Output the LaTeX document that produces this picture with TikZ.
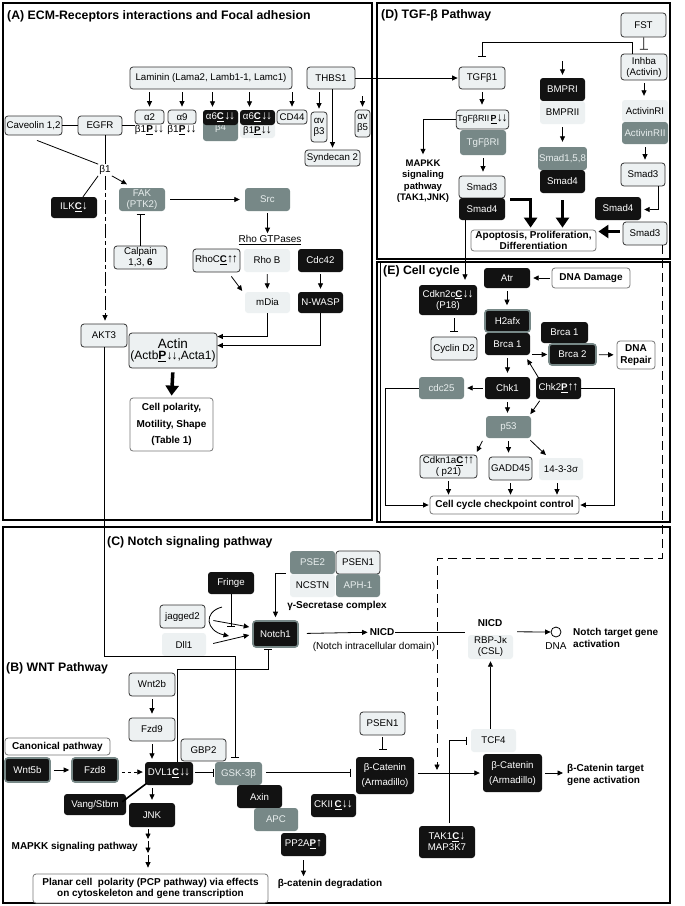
\documentclass[tikz,border=0pt]{standalone}
\usepackage{fontspec}
\setmainfont{Liberation Sans}
\usetikzlibrary{arrows.meta,calc}
\definecolor{lightc}{HTML}{EDF1F2}
\definecolor{grayc}{HTML}{778887}
\definecolor{grtext}{HTML}{E8EEEE}
\definecolor{blk}{HTML}{121212}
\definecolor{bord}{HTML}{333333}
\definecolor{wbord}{HTML}{777777}
\newcommand\xP{\textbf{\underline{P}}}
\newcommand\xC{\textbf{\underline{C}}}
\newcommand\xdn{{\fontsize{12}{10}\selectfont ↓}}
\newcommand\xup{{\fontsize{12}{10}\selectfont ↑}}
\newcommand\xdd{\kern0.3pt\xdn\kern-1.2pt\xdn}
\newcommand\xuu{\xup\kern-1.2pt\xup}
\newcommand\bx[7]{\node[#1, minimum width={(#5-#3)*1pt}, minimum height={(#6-#4)*1pt}] (#2) at ({(#3+#5)/2},{(#4+#6)/2}) {#7};}
\tikzset{
 base/.style={rounded corners=3pt, inner sep=1pt, align=center, font=\fontsize{9.7}{11}\selectfont},
 lb/.style={base, fill=lightc, draw=bord, line width=0.8pt},
 ln/.style={base, fill=lightc},
 gr/.style={base, fill=grayc, text=grtext},
 bk/.style={base, fill=blk, text=white},
 bkg/.style={base, fill=blk, text=white, draw=grayc, line width=1.6pt},
 wb/.style={base, fill=white, draw=wbord, line width=0.8pt, font=\fontsize{10}{11.5}\selectfont\bfseries},
 lbl/.style={inner sep=1pt, font=\fontsize{10}{11}\selectfont},
 blbl/.style={inner sep=1pt, font=\fontsize{10}{11.5}\selectfont\bfseries, align=center},
 ttl/.style={inner sep=0pt, anchor=west, font=\fontsize{12.3}{14}\selectfont\bfseries},
 conn/.style={line width=0.8pt, draw=black},
 arr/.style={conn, -{Triangle[length=5.5pt,width=5pt]}},
 inh/.style={conn, -{Bar[width=8pt, line width=0.8pt]}},
 thickarr/.style={line width=3.5pt, -{Triangle[length=10pt, width=13pt]}},
 frame/.style={line width=1.3pt},
 ldash/.style={dash pattern=on 9pt off 5pt},
 ddot/.style={dash pattern=on 14pt off 3pt on 4pt off 3pt},
}
\begin{document}
\begin{tikzpicture}[x=1pt,y=-1pt]
\fill[white] (0,0) rectangle (685,906);
\useasboundingbox (0,0) rectangle (685,906);
% frames
\draw[frame] (3,3) rectangle (372,520);
\draw[frame] (377,3) rectangle (670,259);
\draw[frame] (377,262) rectangle (670,522);
\draw[line width=0.8pt] (380,262) -- (380,522);
\draw[frame] (3,527) rectangle (670,903);

%% ---------------- Panel A
\node[ttl] (tA) at (7,16) {(A) ECM-Receptors interactions and Focal adhesion};
\bx{lb}{lam}{130}{67}{292}{89}{Laminin (Lama2, Lamb1-1, Lamc1)}
\bx{lb}{thbs}{307}{67}{355}{89}{THBS1}
\bx{lb}{a2}{135}{110}{164}{124}{α2}
\node[lbl] (a2b) at (149.5,130) {β1\xP\xdd};
\bx{lb}{a9}{168}{110}{196}{124}{α9}
\node[lbl] (a9b) at (182,130) {β1\xP\xdd};
\bx{gr}{b4}{203}{110}{238}{141}{\\[1pt]β4}
\bx{bk}{a6a}{203}{110}{238}{125}{α6\xC\xdd}
\bx{ln}{a6bb}{240}{123}{275}{138}{β1\xP\xdd}
\bx{bk}{a6b}{240}{110}{275}{125}{α6\xC\xdd}
\bx{lb}{cd44}{277}{110}{307}{124}{CD44}
\bx{lb}{avb3}{311}{112}{327}{142}{αv\\β3}
\bx{lb}{avb5}{355}{110}{370}{137}{αv\\β5}
\bx{lb}{synd}{305}{150}{360}{166}{Syndecan 2}
\foreach \n/\dx in {a2/0, a9/0, a6a/-8, a6b/-8, cd44/0}{
  \draw[arr, shorten <=3pt, shorten >=3pt] ([xshift=\dx pt]\n.north |- lam.south) -- ([xshift=\dx pt]\n.north);
}
\draw[arr, shorten <=3pt, shorten >=3pt] (avb3.north |- thbs.south) -- (avb3.north);
\draw[arr, shorten <=7pt, shorten >=3pt] (avb5.north |- thbs.south) -- (avb5.north);
\draw[arr, shorten >=2pt] (synd.north |- thbs.south) -- (synd.north);
\bx{lb}{cav}{5}{116}{62}{135}{Caveolin 1,2}
\bx{lb}{egfr}{78}{116}{122}{135}{EGFR}
\draw[conn] (cav) -- (egfr);
\draw[conn] (egfr.east) -- (egfr.east -| a2.west);
\node[lbl] (beta1) at (105,170) {β1};
\draw[conn] ([xshift=3.5pt,yshift=-5pt]cav.south) -- (beta1.north west);
\draw[conn] (beta1.north |- egfr.south) -- (beta1.north);
\bx{bk}{ilk}{51}{197}{97}{218}{ILK\xC\xdn}
\bx{gr}{fak}{119}{188}{165}{211}{FAK\\(PTK2)}
\bx{gr}{src}{245}{188}{290}{211}{Src}
\draw[arr, shorten >=1pt] (beta1.south east) -- ([xshift=9pt,yshift=3pt]fak.north west);
\draw[conn] (beta1.south west) -- ([xshift=9pt]ilk.north);
\bx{lb}{akt3}{81}{324}{127}{347}{AKT3}
\draw[arr, ddot, shorten >=3pt] (beta1.south) -- (beta1.south |- akt3.north);
\draw[arr, shorten <=5pt, shorten >=5pt] (fak) -- (src);
\bx{lb}{calp}{114}{246}{167}{269}{Calpain\\1,3, \textbf{6}}
\draw[inh, shorten >=3pt] (calp.north) -- (calp.north |- fak.south);
\node[lbl] (rhog) at (270,240) {\underline{Rho GTPases}};
\draw[arr, shorten <=2pt, shorten >=1pt] (src.south) -- (src.south |- rhog.north);
\bx{lb}{rhoc}{193}{249}{240}{272}{RhoC\xC\xuu}
\bx{ln}{rhob}{244}{249}{290}{272}{Rho B}
\bx{bk}{cdc42}{298}{249}{343}{272}{Cdc42}
\bx{ln}{mdia}{245}{292}{290}{313}{mDia}
\bx{bk}{nwasp}{298}{292}{343}{313}{N-WASP}
\draw[arr, shorten <=5pt, shorten >=1pt] ([xshift=-12pt]rhoc.south east) -- ([xshift=-2pt]mdia.north west);
\draw[arr, shorten <=2pt, shorten >=3pt] (rhob) -- (mdia);
\draw[arr, shorten <=2pt, shorten >=3pt] (cdc42) -- (nwasp);
\bx{lb}{actin}{129}{333}{217}{368}{{\fontsize{13.5}{14}\selectfont Actin}\\{\fontsize{12}{13}\selectfont (Actb\xP\xdd,Acta1)}}
\draw[arr] (mdia.south) |- ([yshift=14pt]actin.east);
\draw[arr] (nwasp.south) |- ([yshift=5pt]actin.east);
\bx{wb}{cellpol}{130}{398}{213}{451}{Cell polarity,\\[5pt]Motility, Shape\\[5pt](Table 1)}
\draw[thickarr, shorten <=4pt, shorten >=2pt] (actin.south) -- (cellpol.north);

%% ---------------- Panel D
\node[ttl] (tD) at (381,15) {(D) TGF-β Pathway};
\bx{lb}{fst}{621}{13}{666}{37}{FST}
\bx{lb}{inhba}{621}{54}{667}{80}{Inhba\\(Activin)}
\bx{lb}{tgfb1}{459}{67}{505}{89}{TGFβ1}
\draw[arr, shorten >=1pt] (thbs.east) -- (tgfb1.west);
\draw[inh, shorten >=4pt] (fst) -- (inhba);
\draw[inh, shorten >=10pt] ([xshift=-12pt]inhba.north) -- ++(0,-11) -| (tgfb1.north);
\bx{lb}{tgfbr2}{459}{110}{506}{129}{\fontsize{8.8}{10}\selectfont TgFβRII\,\xP\xdd}
\bx{gr}{tgfbr1}{460}{130}{506}{155}{TgFβRI}
\draw[arr, shorten <=3pt, shorten >=5pt] (tgfb1) -- (tgfb1 |- tgfbr2.north);
\node[blbl, font=\fontsize{9.5}{11.5}\selectfont\bfseries] (mapkkD) at (423,181) {MAPKK\\signaling\\pathway\\(TAK1,JNK)};
\draw[arr, shorten >=4pt] (tgfbr2.west) -| (mapkkD.north);
\bx{lb}{smad3a}{459}{176}{505}{198}{Smad3}
\bx{bk}{smad4a}{459}{198}{505}{220}{Smad4}
\draw[arr, shorten <=3pt, shorten >=4pt] (tgfbr1) -- (tgfbr1 |- smad3a.north);
\bx{bk}{bmpr1}{540}{78}{585}{101}{BMPRI}
\bx{ln}{bmpr2}{540}{101}{585}{124}{BMPRII}
\bx{gr}{smad158}{540}{147}{585}{170}{Smad1,5,8}
\bx{bk}{smad4b}{540}{170}{585}{193}{Smad4}
\coordinate (bmptop) at (562.5,61);
\draw[arr, shorten >=3pt] (bmptop) -- (bmpr1);
\draw[arr, shorten <=3pt, shorten >=5pt] (bmpr2) -- (smad158);
\bx{wb}{apop}{471}{230}{596}{251}{Apoptosis, Proliferation,\\Differentiation}
\draw[thickarr, shorten >=2pt] ($(smad3a.south east)+(5,1)$) -| ($(apop.north west)+(60,0)$);
\draw[thickarr, shorten <=7pt, shorten >=2pt] (smad4b.south) -- (smad4b.south |- apop.north);
\bx{ln}{actr1}{622}{100}{668}{122}{ActivinRI}
\bx{gr}{actr2}{622}{122}{668}{144}{ActivinRII}
\bx{lb}{smad3b}{621}{163}{665}{186}{Smad3}
\bx{bk}{smad4c}{595}{197}{641}{220}{Smad4}
\bx{lb}{smad3c}{623}{222}{667}{245}{Smad3}
\draw[arr, shorten <=3pt, shorten >=4pt] (inhba) -- (inhba |- actr1.north);
\draw[arr, shorten <=3pt, shorten >=3pt] (actr2) -- (actr2 |- smad3b.north);
\draw[arr, shorten >=3pt] ([xshift=15pt]smad3b.south) |- ([yshift=-1pt]smad4c.east);
\draw[thickarr, shorten <=3pt, shorten >=2pt] ([yshift=2pt]smad3c.west) -- ([yshift=2pt]smad3c.west -| apop.east);

%% ---------------- Panel E
\node[ttl] (tE) at (383,271) {(E) Cell cycle};
\bx{bk}{atr}{484}{268}{530}{288}{Atr}
\bx{wb}{dnad}{552}{268}{630}{288}{DNA Damage}
\draw[arr, shorten <=2pt, shorten >=3pt] (dnad) -- (atr);
\bx{bkg}{h2afx}{485}{310}{530}{332}{H2afx}
\bx{bk}{brca1}{485}{333}{530}{355}{Brca 1}
\draw[arr, shorten <=3pt, shorten >=4pt] (atr) -- (atr |- h2afx.north);
\bx{bk}{cdkn2c}{419}{285}{477}{315}{Cdkn2c\xC\xdd\\(P18)\hspace{18pt}}
\draw[arr, shorten >=5pt] ([xshift=-17pt]smad4a.south) -- ([xshift=17pt]cdkn2c.north);
\bx{lb}{cycd2}{431}{337}{477}{360}{Cyclin D2}
\draw[inh, shorten <=3pt, shorten >=5pt] (cycd2.north |- cdkn2c.south) -- (cycd2.north);
\bx{bk}{brca1b}{541}{322}{588}{343}{Brca 1}
\bx{bkg}{brca2}{549}{344}{596}{365}{Brca 2}
\draw[arr, shorten <=2pt, shorten >=1pt] (brca2.west -| brca1.east) -- (brca2.west);
\bx{wb}{dnar}{617}{341}{655}{369}{DNA\\Repair}
\draw[arr, shorten <=2pt, shorten >=3pt] (brca2) -- (dnar);
\bx{bk}{chk1}{485}{377}{530}{399}{Chk1}
\bx{bk}{chk2}{536}{377}{581}{399}{Chk2\xP\xuu}
\bx{gr}{cdc25}{419}{377}{464}{399}{cdc25}
\draw[arr, shorten <=3pt, shorten >=4pt] (brca1) -- (brca1 |- chk1.north);
\draw[arr, shorten <=2pt] ([xshift=4pt,yshift=-3pt]chk2.north west) -- ([xshift=-3pt,yshift=-4pt]brca1.south east);
\draw[arr, shorten <=2pt, shorten >=3pt] (chk1) -- (cdc25);
\bx{wb}{cccc}{430}{496}{579}{514}{Cell cycle checkpoint control}
\draw[arr, shorten >=1pt] (cdc25.west) -- ++(-33,0) |- (cccc.west);
\draw[arr, shorten >=1pt] (chk2.east) -- ++(33,0) |- (cccc.east);
\bx{gr}{p53}{486}{416}{531}{438}{p53}
\draw[arr, shorten <=3pt, shorten >=3pt] (chk1.south) -- (chk1.south |- p53.north);
\draw[arr, shorten <=2pt, shorten >=2pt] ([xshift=5pt]chk2.south west) -- ([xshift=-2pt]p53.north east);
\bx{lb}{cdkn1a}{420}{455}{477}{478}{Cdkn1a\xC\xuu\\( p21)\hspace{22pt}}
\bx{lb}{gadd}{489}{457}{532}{480}{GADD45}
\bx{ln}{s1433}{539}{458}{583}{480}{14-3-3σ}
\draw[arr, shorten <=3pt, shorten >=3pt] ([xshift=-2pt]p53.south west) -- ([xshift=-2pt]cdkn1a.north east);
\draw[arr, shorten <=3pt, shorten >=4pt] (p53.south) -- (p53.south |- gadd.north);
\draw[arr, shorten <=3pt, shorten >=4pt] ([xshift=-3pt]p53.south east) -- ([xshift=10pt]s1433.north west);
\draw[arr, shorten <=3pt, shorten >=1pt] (cdkn1a) -- (cdkn1a |- cccc.north);
\draw[arr, shorten <=3pt, shorten >=1pt] (gadd) -- (gadd |- cccc.north);
\draw[arr, shorten <=3pt, shorten >=1pt] ([xshift=-4pt]s1433.south) -- ([xshift=-4pt]s1433.south |- cccc.north);

%% ---------------- Panel C
\node[ttl] (tC) at (107,542) {(C) Notch signaling pathway};
\bx{gr}{pse2}{290}{551}{335}{574}{PSE2}
\bx{lb}{psen1a}{336}{551}{380}{574}{PSEN1}
\bx{ln}{ncstn}{290}{574}{335}{597}{NCSTN}
\bx{gr}{aph1}{336}{574}{380}{597}{APH-1}
\node[blbl] (gsec) at (337,606) {γ-Secretase complex};
\bx{bk}{fringe}{208}{572}{254}{594}{Fringe}
\bx{lb}{jag2}{160}{605}{205}{628}{jagged2}
\bx{ln}{dll1}{162}{633}{206}{656}{Dll1}
\bx{bkg}{notch1}{253}{621}{298}{647}{Notch1}
\draw[arr, shorten <=4pt, shorten >=3pt] (ncstn.north west) -- (notch1.north |- ncstn.north west) -- (notch1.north);
\coordinate (frT) at (231,627);
\draw[inh] (fringe.south) -- (frT);
\coordinate (cvs) at (222,607);
\coordinate (cve) at (229,636);
\draw[arr] (cvs) .. controls (203,612) and (206,631) .. (cve);
\draw[arr] ($(jag2.east)+(8,4)$) -- ($(notch1.west)+(-3,-7)$);
\draw[arr] ($(dll1.east)+(7,-1)$) -- ($(notch1.west)+(-3,1)$);
\node[blbl] (nicd1) at (382,632) {NICD};
\node[lbl] (nicdlbl) at (374,647) {(Notch intracellular domain)};
\draw[arr, shorten <=8pt, shorten >=1pt] (notch1) -- (nicd1);
\node[blbl] (nicd2) at (490,623) {NICD};
\bx{ln}{rbp}{468}{635}{513}{659}{RBP-Jκ\\(CSL)}
\draw[conn] (nicd1.east) -- ($(rbp.west |- nicd1.east)+(-3,0)$);
\node[circle, draw, line width=0.8pt, minimum size=10pt, inner sep=0pt] (dnac) at (556,632) {};
\node[lbl] (dnalbl) at (556,646) {DNA};
\draw[arr] ($(rbp.north east)+(4,-3)$) -- (dnac.west);
\node[blbl, align=left, anchor=west] (ntga) at (572,638) {Notch target gene\\activation};

%% ---------------- Panel B
\node[ttl] (tB) at (6,668) {(B) WNT Pathway};
\bx{lb}{wnt2b}{129}{673}{175}{696}{Wnt2b}
\bx{lb}{fzd9}{129}{718}{175}{741}{Fzd9}
\bx{bk}{dvl1}{145}{762}{193}{785}{DVL1\xC\xdd}
\draw[arr, shorten <=3pt, shorten >=4pt] (wnt2b) -- (fzd9);
\draw[arr, shorten <=3pt, shorten >=3pt] (fzd9.south) -- (fzd9.south |- dvl1.north);
\bx{wb}{canon}{5}{738}{110}{755}{Canonical pathway}
\bx{bkg}{wnt5b}{5}{758}{50}{782}{Wnt5b}
\bx{bkg}{fzd8}{72}{758}{118}{782}{Fzd8}
\draw[arr, shorten <=3pt, shorten >=2pt] (wnt5b) -- (fzd8);
\draw[arr, dashed, shorten <=3pt, shorten >=2pt] ([yshift=-2pt]fzd8.east) -- ([yshift=-2pt]fzd8.east -| dvl1.west);
\bx{lb}{gbp2}{181}{739}{226}{761}{GBP2}
\bx{gr}{gsk}{215}{762}{262}{785}{GSK-3β}
\draw[inh, shorten <=2pt, shorten >=1pt] ([yshift=1pt]dvl1.east) -- ([yshift=1pt]dvl1.east -| gsk.west);
\bx{bk}{axin}{237}{785}{282}{808}{Axin}
\bx{gr}{apc}{254}{808}{298}{831}{APC}
\bx{bk}{pp2a}{281}{833}{326}{856}{PP2A\xP\xup}
\node[blbl] (bdeg) at (330,884) {β-catenin degradation};
\draw[arr, shorten <=4pt, shorten >=2pt] (pp2a.south) -- (pp2a.south |- bdeg.north);
\bx{bk}{vang}{64}{794}{126}{815}{Vang/Stbm}
\draw[line width=1.6pt] ([xshift=2pt,yshift=2pt]dvl1.south west) -- ([xshift=-4pt,yshift=-8pt]vang.north east);
\bx{bk}{jnk}{129}{803}{175}{827}{JNK}
\draw[arr, shorten <=3pt, shorten >=3pt] (dvl1.south -| jnk.north) -- (jnk.north);
\coordinate (m1) at (148,841);
\coordinate (m2) at (148,855);
\draw[arr, shorten <=2pt, shorten >=2pt] ([xshift=-4pt]jnk.south) -- (m1);
\draw[arr, shorten >=2pt] (m1) -- (m2);
\bx{wb}{pcp}{33}{874}{268}{903}{Planar cell \ polarity (PCP pathway) via effects\\on cytoskeleton and gene transcription}
\draw[arr, shorten >=6pt] (m2) -- (m2 |- pcp.north);
\node[blbl, anchor=east] (mapkkB) at (139,847) {MAPKK signaling pathway};
\bx{bk}{ckii}{311}{794}{356}{817}{CKII\,\xC\xdd}
\bx{lb}{psen1b}{360}{712}{405}{735}{PSEN1}
\bx{bk}{bcat1}{356}{757}{414}{794}{β-Catenin\\[4pt](Armadillo)}
\draw[inh, shorten <=2pt, shorten >=7pt] (psen1b.south) -- (psen1b.south |- bcat1.north);
\draw[inh, shorten <=4pt, shorten >=5pt] ([yshift=1pt]gsk.east) -- ([yshift=1pt]gsk.east -| bcat1.west);
\bx{bk}{bcat2}{483}{754}{542}{792}{β-Catenin\\[4pt](Armadillo)}
\draw[arr, shorten <=4pt, shorten >=3pt] (bcat2.west -| bcat1.east) -- (bcat2.west);
\bx{ln}{tcf4}{471}{729}{516}{752}{TCF4}
\draw[arr, shorten >=2pt] (tcf4.north -| rbp.south) -- (rbp.south);
\bx{bk}{tak1}{419}{826}{475}{858}{TAK1\xC\xdn\\MAP3K7}
\draw[inh, shorten <=3pt, shorten >=4pt] ([xshift=2pt]tak1.north) |- (tcf4.west);
\node[blbl, align=left, anchor=west] (btga) at (566,775) {β-Catenin target\\gene activation};
\draw[arr, shorten <=3pt, shorten >=3pt] (bcat2.east) -- (bcat2.east -| btga.west);
\coordinate (bcjoin) at (437,770);

%% cross-panel connectors
\draw[arr, ldash] ([xshift=17pt]smad3c.south) -- ++(0,313) -| (bcjoin);
\draw[inh, shorten >=4pt] (akt3.south) -- ++(0,309) -| ([xshift=-3.5pt]gsk.north);
\draw[inh, shorten >=1pt] ([xshift=8pt]dvl1.north) -- ++(0,-92) -| ([xshift=-7.5pt]notch1.south);
\end{tikzpicture}
\end{document}
